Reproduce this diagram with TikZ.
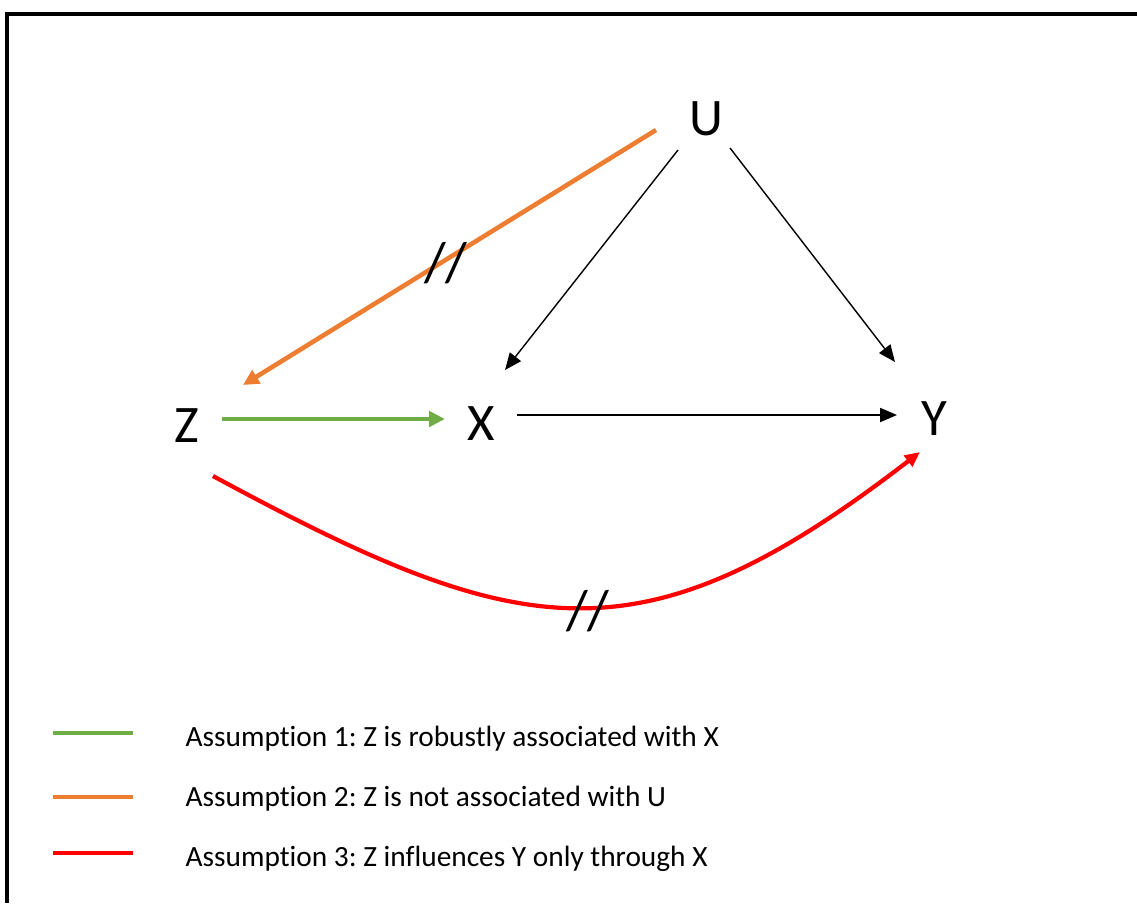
\documentclass[tikz,border=0pt]{standalone}
\usepackage{fontspec}
\setmainfont[Ligatures=NoCommon]{Carlito}
\usepackage{tikz}
\usetikzlibrary{arrows.meta,calc}
\frenchspacing
\definecolor{assumgreen}{RGB}{112, 173, 71}
\definecolor{assumorange}{RGB}{237, 125, 49}
\definecolor{assumred}{RGB}{255, 0, 0}
\tikzset{
 varnode/.style={
 inner sep=0pt,
 font=\fontsize{15}{18}\selectfont
 },
 breakmark/.style={
 inner sep=0pt,
 font=\fontsize{16}{19}\selectfont
 },
 legendtext/.style={
 anchor=base west,
 inner sep=0pt,
 font=\fontsize{8.35}{10}\selectfont
 },
 causalarrow/.style={-{Triangle[length=4.8pt, width=4pt]}, line width=0.4pt, draw=black},
 greenarrow/.style={-{Triangle[length=4.5pt, width=4.3pt]}, line width=1.3pt, draw=assumgreen},
 orangearrow/.style={-{Triangle[length=4.5pt, width=4.3pt]}, line width=1.3pt, draw=assumorange},
 redarrow/.style={-{Triangle[length=4.3pt, width=3.8pt]}, line width=1.2pt, draw=assumred}
}
\begin{document}
\begin{tikzpicture}[x=0.01cm, y=-0.01cm]
 \useasboundingbox (0,0) rectangle (1137,903);
 \draw[line width=0.9pt] (7,903) |- (1137,14);

 \node[varnode] (U) at (706,119) {U};
 \node[varnode] (Z) at (187,426) {Z};
 \node[varnode] (X) at (481,424) {X};
 \node[varnode] (Y) at (934,419) {Y};

 \draw[orangearrow] ($(U)+(-50,11)$) -- ($(Z)+(56,-41)$);
 \draw[causalarrow] ($(U)+(-28,31)$) -- ($(X)+(24,-54)$);
 \draw[causalarrow] ($(U)+(24,29)$) -- ($(Y)+(-39,-57)$);
 \draw[greenarrow] ($(Z)+(35,-7)$) -- ($(X)+(-36,-5)$);
 \draw[causalarrow] ($(X)+(36,-9)$) -- ($(Y)+(-37,-4)$);
 \draw[redarrow] ($(Z)+(26,50)$) .. controls (520,642) and (640,668) .. ($(Y)+(-14,33)$);

 \node[breakmark] (cut1) at (446,263) {//};
 \node[breakmark] (cut2) at (588,611) {//};

 \node[legendtext] (leg1) at (185,746) {Assumption 1: Z is robustly associated with X};
 \node[legendtext] (leg2) at (185,806) {Assumption 2: Z is not associated with U};
 \node[legendtext] (leg3) at (185,866) {Assumption 3: Z influences Y only through X};
 \draw[assumgreen, line width=1.2pt] (53,733) -- (133,733);
 \draw[assumorange, line width=1.2pt] (53,797) -- (133,797);
 \draw[assumred, line width=1.4pt] (53,853) -- (133,853);
\end{tikzpicture}
\end{document}
